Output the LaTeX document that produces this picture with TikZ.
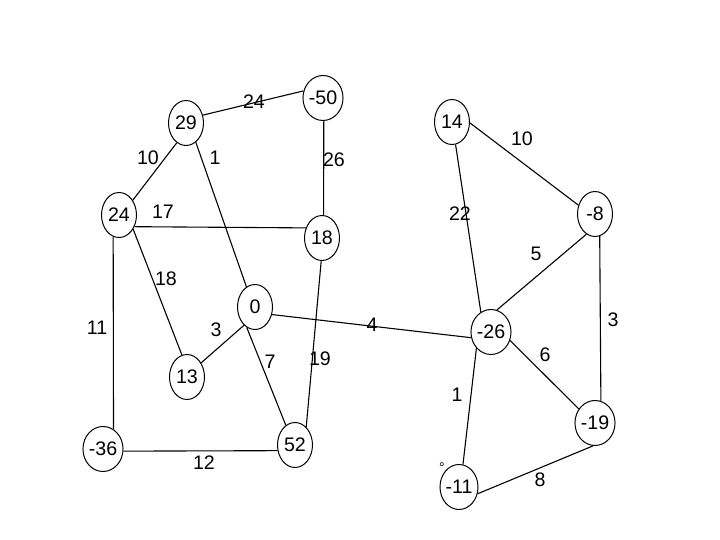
\documentclass[tikz,border=0pt]{standalone}
\usepackage{fontspec}
\setmainfont{Liberation Sans}
\usetikzlibrary{shapes.geometric}
\begin{document}
\begin{tikzpicture}[x=0.5pt,y=-0.5pt,
  vert/.style={ellipse,draw,line width=0.5pt,minimum width=17.5pt,minimum height=22.5pt,inner sep=0pt,font=\fontsize{9.8}{10}\selectfont},
  wlab/.style={inner sep=0pt,font=\fontsize{9.8}{10}\selectfont},
  edge/.style={line width=0.55pt}]
\useasboundingbox (0,0) rectangle (720,540);
% vertices
\node[vert] (n29) at (186,123) {29};
\node[vert] (n50) at (323,98) {-50};
\node[vert] (n24) at (119,215) {24};
\node[vert] (n18) at (322,238) {18};
\node[vert] (n0) at (255,307) {0};
\node[vert] (n13) at (187,377) {13};
\node[vert] (n36) at (103,449) {-36};
\node[vert] (n52) at (295,445) {52};
\node[vert] (n14) at (452,122) {14};
\node[vert] (n8) at (595,214) {-8};
\node[vert] (n26) at (491,332) {-26};
\node[vert] (n19) at (595,423) {-19};
\node[vert] (n11) at (459,487) {-11};
% edges
\draw[edge] (n29.25) -- (n50.160);
\draw[edge] (n29.245) -- (n24.47);
\draw[edge] (n29.-63) -- (n0.113);
\draw[edge] (n50.-88) -- (n18.86);
\draw[edge] (n24.-37) -- (n18.148);
\draw[edge] (n24.-45) -- (n13.103);
\draw[edge] (n24.-105) -- (n36.62);
\draw[edge] (n0.-121) -- (n13.45);
\draw[edge] (n0.-112) -- (n52.115);
\draw[edge] (n18.-92) -- (n52.58);
\draw[edge] (n36.-6) -- (n52.-162);
\draw[edge] (n0.-24) -- (n26.-164);
\draw[edge] (n14.-3) -- (n8.152);
\draw[edge] (n14.-81) -- (n26.117);
\draw[edge] (n8.-113) -- (n26.75);
\draw[edge] (n8.-78) -- (n19.75);
\draw[edge] (n26.-24) -- (n19.139);
\draw[edge] (n26.-132) -- (n11.80);
\draw[edge] (n11.-20) -- (n19.-95);
% weights
\node[wlab] (w1) at (254,102) {24};
\node[wlab] (w2) at (148,158) {10};
\node[wlab] (w3) at (215,158) {1};
\node[wlab] (w4) at (334,160) {26};
\node[wlab] (w5) at (163,212) {17};
\node[wlab] (w6) at (166,279) {18};
\node[wlab] (w7) at (97,328) {11};
\node[wlab] (w8) at (216,330) {3};
\node[wlab] (w9) at (270,362) {7};
\node[wlab] (w10) at (320,359) {19};
\node[wlab] (w11) at (204,463) {12};
\node[wlab] (w12) at (372,325) {4};
\node[wlab] (w13) at (522,139) {10};
\node[wlab] (w14) at (460,214) {22};
\node[wlab] (w15) at (536,254) {5};
\node[wlab] (w16) at (613,320) {3};
\node[wlab] (w17) at (545,355) {6};
\node[wlab] (w18) at (457,395) {1};
\node[wlab] (w19) at (540,480) {8};
\node[wlab,font=\fontsize{7}{7}\selectfont] (deg) at (442,468) {°};
\end{tikzpicture}
\end{document}
